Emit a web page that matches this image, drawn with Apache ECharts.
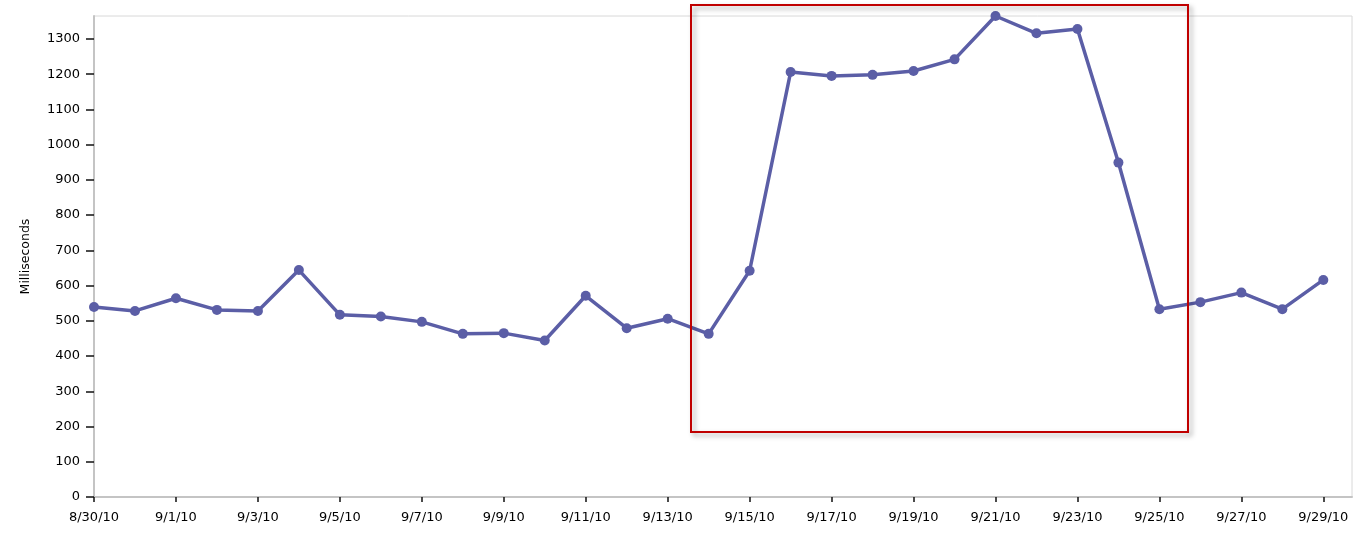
<!DOCTYPE html>
<html>
<head>
<meta charset="utf-8">
<script src="https://cdn.jsdelivr.net/npm/echarts@6/dist/echarts.min.js"></script>
<style>
  html, body { margin: 0; padding: 0; background: #fff; }
  #chart { width: 1361px; height: 542px; }
</style>
</head>
<body>
<div id="chart"></div>
<script>
// dates, one point per day
const dates = ['8/30/10', '8/31/10', '9/1/10', '9/2/10', '9/3/10', '9/4/10', '9/5/10', '9/6/10',
  '9/7/10', '9/8/10', '9/9/10', '9/10/10', '9/11/10', '9/12/10', '9/13/10', '9/14/10', '9/15/10',
  '9/16/10', '9/17/10', '9/18/10', '9/19/10', '9/20/10', '9/21/10', '9/22/10', '9/23/10',
  '9/24/10', '9/25/10', '9/26/10', '9/27/10', '9/28/10', '9/29/10'];
// response time in ms
const millis = [539, 528, 564, 531, 528, 644, 517, 512, 497, 463, 465, 444, 571, 479, 506, 463, 642,
  1206, 1195, 1198, 1209, 1242, 1365, 1316, 1328, 949, 533, 553, 580, 533, 616];
// axis ticks
const xTicks = [0, 2, 4, 6, 8, 10, 12, 14, 16, 18, 20, 22, 24, 26, 28, 30];
const yTicks = [0, 100, 200, 300, 400, 500, 600, 700, 800, 900, 1000, 1100, 1200, 1300];

const chart = echarts.init(document.getElementById('chart'));

const points = millis.map((v, i) => [i, v]);
const font = 'DejaVu Sans, Verdana, sans-serif';

const option = {
  animation: false,
  grid: {
    left: 94, right: 9, top: 16, bottom: 45,
    show: true, borderColor: '#d8d8d8', borderWidth: 1,
    containLabel: false,
    outerBoundsMode: 'none'
  },
  xAxis: {
    type: 'value',
    min: 0,
    max: 30.7,
    axisLine: { show: true, onZero: false, lineStyle: { color: '#c4c4c4', width: 2 } },
    axisTick: { show: true, customValues: xTicks, length: 5, lineStyle: { color: '#111', width: 1.5 } },
    axisLabel: {
      customValues: xTicks,
      formatter: v => dates[v] || '',
      color: '#000', fontSize: 13, fontFamily: font, margin: 14
    },
    splitLine: { show: false }
  },
  yAxis: {
    type: 'value',
    min: 0,
    max: 1365,
    name: 'Milliseconds',
    nameLocation: 'middle',
    nameGap: 62,
    nameTextStyle: { color: '#000', fontSize: 12.5, fontFamily: font },
    axisLine: { show: true, lineStyle: { color: '#c4c4c4', width: 2 } },
    axisTick: { show: true, customValues: yTicks, length: 8, lineStyle: { color: '#111', width: 1.5 } },
    axisLabel: {
      customValues: yTicks,
      formatter: v => String(v),
      color: '#000', fontSize: 13, fontFamily: font, margin: 14
    },
    splitLine: { show: false }
  },
  series: [{
    type: 'line',
    data: points,
    symbol: 'circle',
    symbolSize: 10,
    clip: false,
    lineStyle: { color: '#5b5ea6', width: 3.5 },
    itemStyle: { color: '#5b5ea6' }
  }],
  graphic: [{
    type: 'rect',
    z: 100,
    shape: { x: 691, y: 5, width: 497, height: 427 },
    style: {
      fill: null,
      stroke: '#c00000',
      lineWidth: 2,
      shadowBlur: 5,
      shadowOffsetX: 3,
      shadowOffsetY: 3,
      shadowColor: 'rgba(0,0,0,0.35)'
    }
  }]
};

chart.setOption(option);
</script>
</body>
</html>
